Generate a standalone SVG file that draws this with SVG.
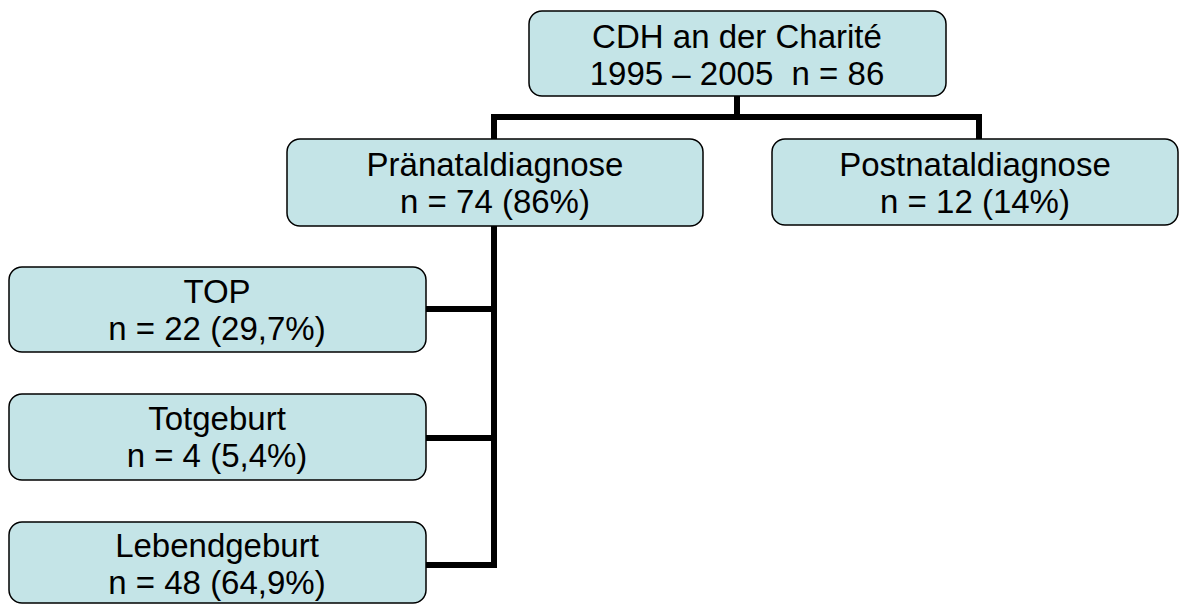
<svg xmlns="http://www.w3.org/2000/svg" width="1179" height="605" viewBox="0 0 1179 605">
<style>
.box{fill:#C4E4E7;stroke:#000;stroke-width:1.5}
.t{font-family:"Liberation Sans",Arial,sans-serif;font-size:33px;fill:#000;text-anchor:middle}
.c{fill:none;stroke:#000;stroke-width:6;stroke-linejoin:miter;stroke-linecap:square}
</style>
<rect width="1179" height="605" fill="#fff"/>
<g id="connectors">
<path class="c" d="M737,96 V117 M494,139 V117 H979 V139"/>
<path class="c" d="M494,226 V565 H428 M494,309 H428 M494,438 H428"/>
</g>
<g id="root">
<rect class="box" x="529" y="11" width="417" height="85" rx="13"/>
<text class="t" x="737" y="48">CDH an der Charité</text>
<text class="t" x="737" y="85" xml:space="preserve">1995 – 2005  n = 86</text>
</g>
<g id="praenatal">
<rect class="box" x="287" y="139" width="416" height="87" rx="13"/>
<text class="t" x="495" y="176">Pränataldiagnose</text>
<text class="t" x="495" y="213">n = 74 (86%)</text>
</g>
<g id="postnatal">
<rect class="box" x="772" y="139" width="406" height="86" rx="13"/>
<text class="t" x="975" y="176">Postnataldiagnose</text>
<text class="t" x="975" y="213">n = 12 (14%)</text>
</g>
<g id="top">
<rect class="box" x="9" y="267" width="417" height="85" rx="13"/>
<text class="t" x="217" y="303">TOP</text>
<text class="t" x="217" y="340">n = 22 (29,7%)</text>
</g>
<g id="totgeburt">
<rect class="box" x="9" y="394" width="417" height="86" rx="13"/>
<text class="t" x="217" y="430">Totgeburt</text>
<text class="t" x="217" y="467">n = 4 (5,4%)</text>
</g>
<g id="lebendgeburt">
<rect class="box" x="9" y="522" width="417" height="81" rx="13"/>
<text class="t" x="217" y="557">Lebendgeburt</text>
<text class="t" x="217" y="594">n = 48 (64,9%)</text>
</g>
</svg>
